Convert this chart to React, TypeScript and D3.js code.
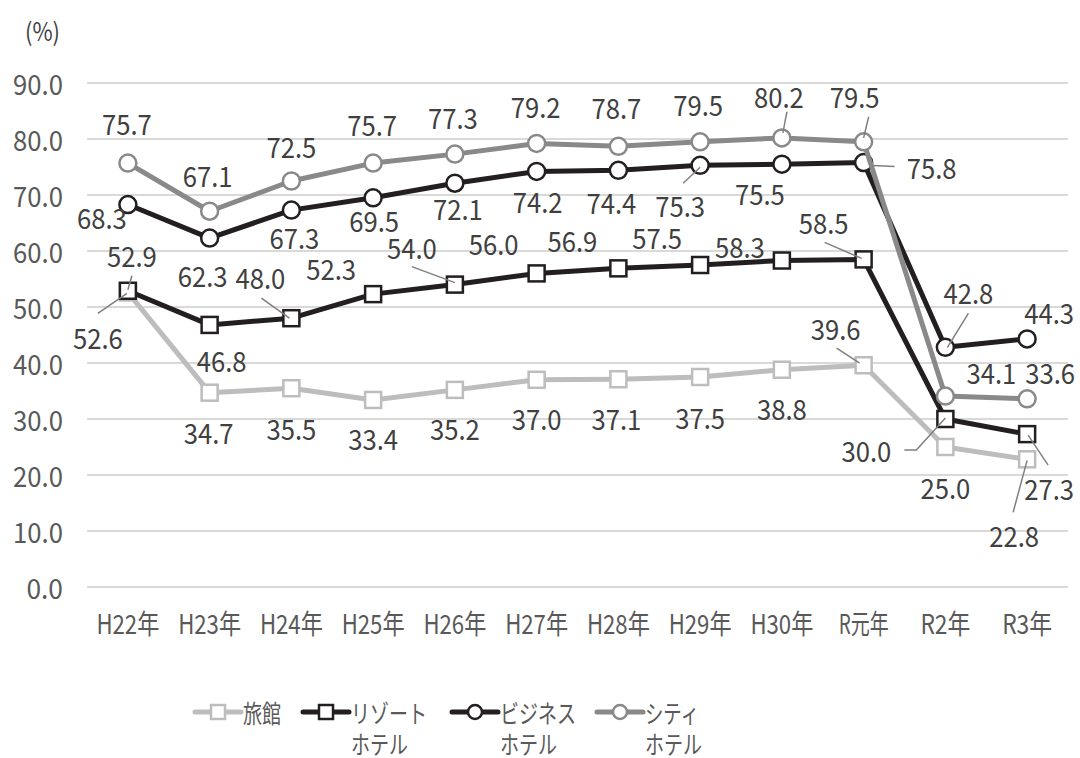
import React from 'react';
import * as d3 from 'd3';

const years = ['H22年', 'H23年', 'H24年', 'H25年', 'H26年', 'H27年', 'H28年', 'H29年', 'H30年', 'R元年', 'R2年', 'R3年'];
const ryokan = [52.6, 34.7, 35.5, 33.4, 35.2, 37.0, 37.1, 37.5, 38.8, 39.6, 25.0, 22.8];
const resort = [52.9, 46.8, 48.0, 52.3, 54.0, 56.0, 56.9, 57.5, 58.3, 58.5, 30.0, 27.3];
const business = [68.3, 62.3, 67.3, 69.5, 72.1, 74.2, 74.4, 75.3, 75.5, 75.8, 42.8, 44.3];
const city = [75.7, 67.1, 72.5, 75.7, 77.3, 79.2, 78.7, 79.5, 80.2, 79.5, 34.1, 33.6];
const yTicks = [0, 10, 20, 30, 40, 50, 60, 70, 80, 90];

// label offsets from the point (text centre)
const ryokanLabelPos = [[-30, 45], [-1, 39], [0, 40], [0, 38], [0, 38], [0, 38], [-2, 39], [0, 40], [0, 38], [-28, -37], [0, 40], [-13, 76]];
const resortLabelPos = [[4, -36], [12, 35], [-31, -41], [-42, -26], [-43, -38], [-43, -30], [-46, -28], [-43, -28], [-42, -15], [-40, -37], [-79, 31], [22, 54]];
const businessLabelPos = [[-26, 12], [-7, 37], [3, 27], [1, 22], [3, 25], [1, 30], [-7, 32], [-20, 40], [-22, 29], [68, 4], [23, -55], [22, -27]];
const cityLabelPos = [[-1, -40], [-2, -36], [0, -35], [-1, -39], [-2, -37], [-1, -37], [-2, -39], [-2, -38], [-3, -42], [-9, -46], [46, -24], [23, -27]];

// leader lines, relative to the point
const ryokanLeaders: Record<number, number[][]> = { 0: [[-30, 21], [-1, 1]], 9: [[-27, -17], [-4, -2]], 11: [[-14, 53], [0, 1]] };
const resortLeaders: Record<number, number[][]> = {
  0: [[4, -15], [0, -1]], 2: [[-30, -20], [-2, 0]], 4: [[-43, -18], [0, -2]], 9: [[-39, -17], [-2, -1]],
  10: [[-41, 31], [-29, 31], [0, -1]], 11: [[1, 1], [21, 31]],
};
const businessLeaders: Record<number, number[][]> = { 7: [[-17, 18], [0, 2]], 9: [[9, 3], [31, 4]], 10: [[23, -34], [2, 0]] };
const cityLeaders: Record<number, number[][]> = { 8: [[5, -26], [1, -5]], 9: [[5, -25], [0, -4]] };

const series = [
  { name: ['旅館'], values: ryokan, color: '#bdbdbd', marker: 'square', labels: ryokanLabelPos, leaders: ryokanLeaders },
  { name: ['リゾート', 'ホテル'], values: resort, color: '#231f20', marker: 'square', labels: resortLabelPos, leaders: resortLeaders },
  { name: ['ビジネス', 'ホテル'], values: business, color: '#231f20', marker: 'circle', labels: businessLabelPos, leaders: businessLeaders },
  { name: ['シティ', 'ホテル'], values: city, color: '#898989', marker: 'circle', labels: cityLabelPos, leaders: cityLeaders },
];

const font = '"Noto Sans CJK JP", "Noto Sans", sans-serif';

// the reference uses a condensed face; squeeze glyphs to a width estimated per character
const textWidth = (s: string) =>
  Array.from(s).reduce((w, c) => w + (c === '.' ? 10 : /[\x20-\x7e]/.test(c) ? 13.3 : c === 'ィ' ? 16 : 19), 0);

const T = (p: any) => (
  <text
    fontFamily={font}
    dominantBaseline="central"
    textLength={p.len ?? textWidth(p.children)}
    lengthAdjust="spacingAndGlyphs"
    {...p}
  />
);

const Marker = ({ type, x, y, color }: { type: string; x: number; y: number; color: string }) =>
  type === 'square' ? (
    <rect x={x - 8} y={y - 8} width={16} height={16} fill="#fff" stroke={color} strokeWidth={2.5} />
  ) : (
    <circle cx={x} cy={y} r={8.5} fill="#fff" stroke={color} strokeWidth={2.5} />
  );

export default function App() {
  const width = 1080;
  const height = 758;
  const left = 87;
  const right = 1068;
  const x = d3.scaleBand().domain(years).range([left, right]);
  const y = d3.scaleLinear().domain([0, 90]).range([587, 83]);
  const cx = (i: number) => (x(years[i]) as number) + x.bandwidth() / 2;
  const line = d3
    .line<number>()
    .x((_, i) => cx(i))
    .y((d) => y(d));

  const legendX = [195, 303, 452, 597];

  return (
    <svg width={width} height={height} style={{ position: 'absolute', left: 0, top: 0, background: '#fff' }}>
      <T x={25} y={30} fontSize={25} fill="#404040" len={35}>(%)</T>
      {yTicks.map((t) => (
        <g key={t}>
          <line x1={left} x2={right} y1={y(t)} y2={y(t)} stroke="#d9d9d9" strokeWidth={2} />
          <T x={63} y={y(t)} textAnchor="end" fontSize={28} fill="#595959">
            {t.toFixed(1)}
          </T>
        </g>
      ))}
      {years.map((yr, i) => (
        <T key={yr} x={cx(i)} y={622} textAnchor="middle" fontSize={27} fill="#595959" len={yr.length === 4 ? 63 : 50}>
          {yr}
        </T>
      ))}
      {series.map((s, si) => (
        <g key={si}>
          <path d={line(s.values) || ''} fill="none" stroke={s.color} strokeWidth={5} strokeLinejoin="round" />
          {s.values.map((v, i) => (
            <Marker key={i} type={s.marker} x={cx(i)} y={y(v)} color={s.color} />
          ))}
        </g>
      ))}
      {series.map((s, si) => (
        <g key={'l' + si}>
          {Object.entries(s.leaders).map(([k, pts]) => {
            const i = +k;
            const p = pts.map(([dx, dy]) => [cx(i) + dx, y(s.values[i]) + dy] as [number, number]);
            return <path key={k} d={d3.line()(p) || ''} fill="none" stroke="#7f7f7f" strokeWidth={1.5} />;
          })}
          {s.values.map((v, i) => (
            <T key={i} x={cx(i) + s.labels[i][0]} y={y(v) + s.labels[i][1]} textAnchor="middle" fontSize={28} fill="#404040">
              {v.toFixed(1)}
            </T>
          ))}
        </g>
      ))}
      {series.map((s, si) => {
        const lx = legendX[si];
        return (
          <g key={'g' + si}>
            <line x1={lx} x2={lx + 46} y1={712} y2={712} stroke={s.color} strokeWidth={5} strokeLinecap="round" />
            {s.marker === 'square' ? (
              <rect x={lx + 23 - 7} y={705} width={14} height={14} fill="#fff" stroke={s.color} strokeWidth={2.5} />
            ) : (
              <circle cx={lx + 23} cy={712} r={7} fill="#fff" stroke={s.color} strokeWidth={2.5} />
            )}
            {s.name.map((n, ni) => (
              <T key={n} x={lx + 48} y={712 + ni * 31} fontSize={25} fill="#595959">
                {n}
              </T>
            ))}
          </g>
        );
      })}
    </svg>
  );
}
